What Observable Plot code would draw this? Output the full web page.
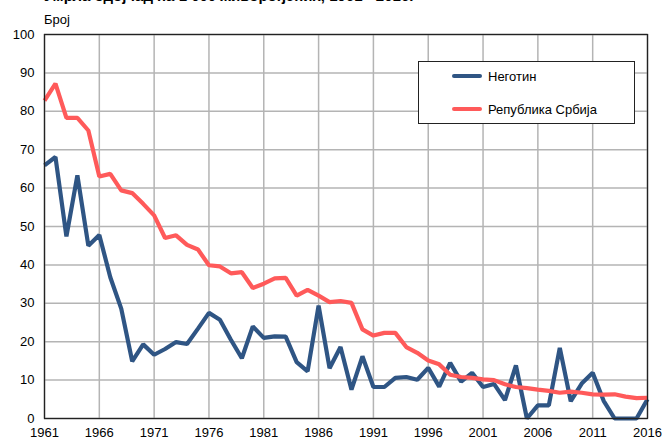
<!DOCTYPE html>
<html>
<head>
<meta charset="utf-8">
<script src="https://cdn.jsdelivr.net/npm/d3@7"></script>
<script src="https://cdn.jsdelivr.net/npm/@observablehq/plot@0.6"></script>
<style>
  html, body { margin: 0; padding: 0; background: #fff; overflow: hidden; }
  body { width: 665px; height: 443px; position: relative; font-family: "Liberation Sans", Arial, sans-serif; }
  #chart { position: absolute; left: 0; top: 0; }
  .title { position: absolute; left: 44px; top: -13px; font-size: 15px; font-weight: bold; white-space: nowrap; line-height: 17px; }
  .subtitle { position: absolute; left: 44px; top: 12px; font-size: 13px; line-height: 15px; }
  .legend { position: absolute; left: 418px; top: 61px; width: 215px; height: 61px; border: 1px solid #222; background: #fff; }
  .item { position: absolute; left: 33px; height: 16px; display: flex; align-items: center; font-size: 13px; }
  .sw { width: 30px; height: 4px; border-radius: 2px; margin-right: 6px; }
</style>
</head>
<body>
<div class="title">Умрла одојчад на 1 000 живорођених, 1961 - 2016.</div>
<div class="subtitle">Број</div>
<div id="chart"></div>
<div class="legend" id="legend"></div>
<script>
const years = [1961,1962,1963,1964,1965,1966,1967,1968,1969,1970,
  1971,1972,1973,1974,1975,1976,1977,1978,1979,1980,
  1981,1982,1983,1984,1985,1986,1987,1988,1989,1990,
  1991,1992,1993,1994,1995,1996,1997,1998,1999,2000,
  2001,2002,2003,2004,2005,2006,2007,2008,2009,2010,
  2011,2012,2013,2014,2015,2016];
const negotin = [65.9,68.1,47.4,63.3,45.0,47.8,36.8,28.6,14.9,19.3,
  16.6,18.1,19.9,19.4,23.4,27.5,25.7,20.5,15.7,24.0,
  21.0,21.4,21.3,14.7,12.3,29.4,13.1,18.6,7.5,16.2,
  8.2,8.2,10.6,10.8,10.1,13.2,8.3,14.5,9.6,11.9,
  8.2,9.0,4.8,13.8,0,3.4,3.4,18.4,4.5,9.1,
  11.9,4.6,0,0,0,5.0];
const srbija = [82.8,87.2,78.3,78.3,75.0,63.0,63.7,59.4,58.7,55.9,
  52.9,47.0,47.7,45.2,44.0,39.9,39.6,37.8,38.1,34.0,
  35.1,36.5,36.6,32.0,33.5,32.0,30.3,30.6,30.1,23.2,
  21.6,22.3,22.3,18.6,17.1,15.1,14.1,11.4,10.8,10.6,
  10.2,10.0,8.9,8.2,7.9,7.5,7.2,6.7,7.0,6.7,
  6.3,6.2,6.3,5.7,5.3,5.4];
const seriesNames = ["Неготин", "Република Србија"];
const seriesColors = ["#2f5584", "#ff5a5a"];
const xTicks = [1961,1966,1971,1976,1981,1986,1991,1996,2001,2006,2011,2016];
const yTicks = [0,10,20,30,40,50,60,70,80,90,100];

const rows = [];
years.forEach((y, i) => {
  rows.push({year: y, value: negotin[i], series: seriesNames[0]});
  rows.push({year: y, value: srbija[i], series: seriesNames[1]});
});

const chart = Plot.plot({
  width: 665,
  height: 443,
  marginLeft: 44,
  marginRight: 18,
  marginTop: 34,
  marginBottom: 25,
  style: {fontFamily: "'Liberation Sans', Arial, sans-serif", fontSize: "13px", color: "#000", background: "transparent"},
  x: {domain: [1961, 2016], ticks: xTicks, tickFormat: d => String(d), tickSize: 0, tickPadding: 9, label: null},
  y: {domain: [0, 100], ticks: yTicks, tickSize: 0, tickPadding: 10, label: null},
  color: {domain: seriesNames, range: seriesColors},
  marks: [
    Plot.gridX(xTicks, {stroke: "#b4b4b4", strokeOpacity: 1, strokeWidth: 1.5}),
    Plot.gridY(yTicks, {stroke: "#b4b4b4", strokeOpacity: 1, strokeWidth: 1.5}),
    Plot.lineY(rows, {x: "year", y: "value", z: "series", stroke: "series", strokeWidth: 4.2, strokeLinejoin: "miter", strokeLinecap: "butt"}),
    Plot.frame({stroke: "#222", strokeWidth: 1.3})
  ]
});
document.getElementById("chart").appendChild(chart);

const legend = document.getElementById("legend");
seriesNames.forEach((name, i) => {
  const it = document.createElement("div");
  it.className = "item";
  it.style.top = (i === 0 ? 6 : 39) + "px";
  const sw = document.createElement("div");
  sw.className = "sw";
  sw.style.background = seriesColors[i];
  const t = document.createElement("span");
  t.textContent = name;
  it.appendChild(sw);
  it.appendChild(t);
  legend.appendChild(it);
});
</script>
</body>
</html>
